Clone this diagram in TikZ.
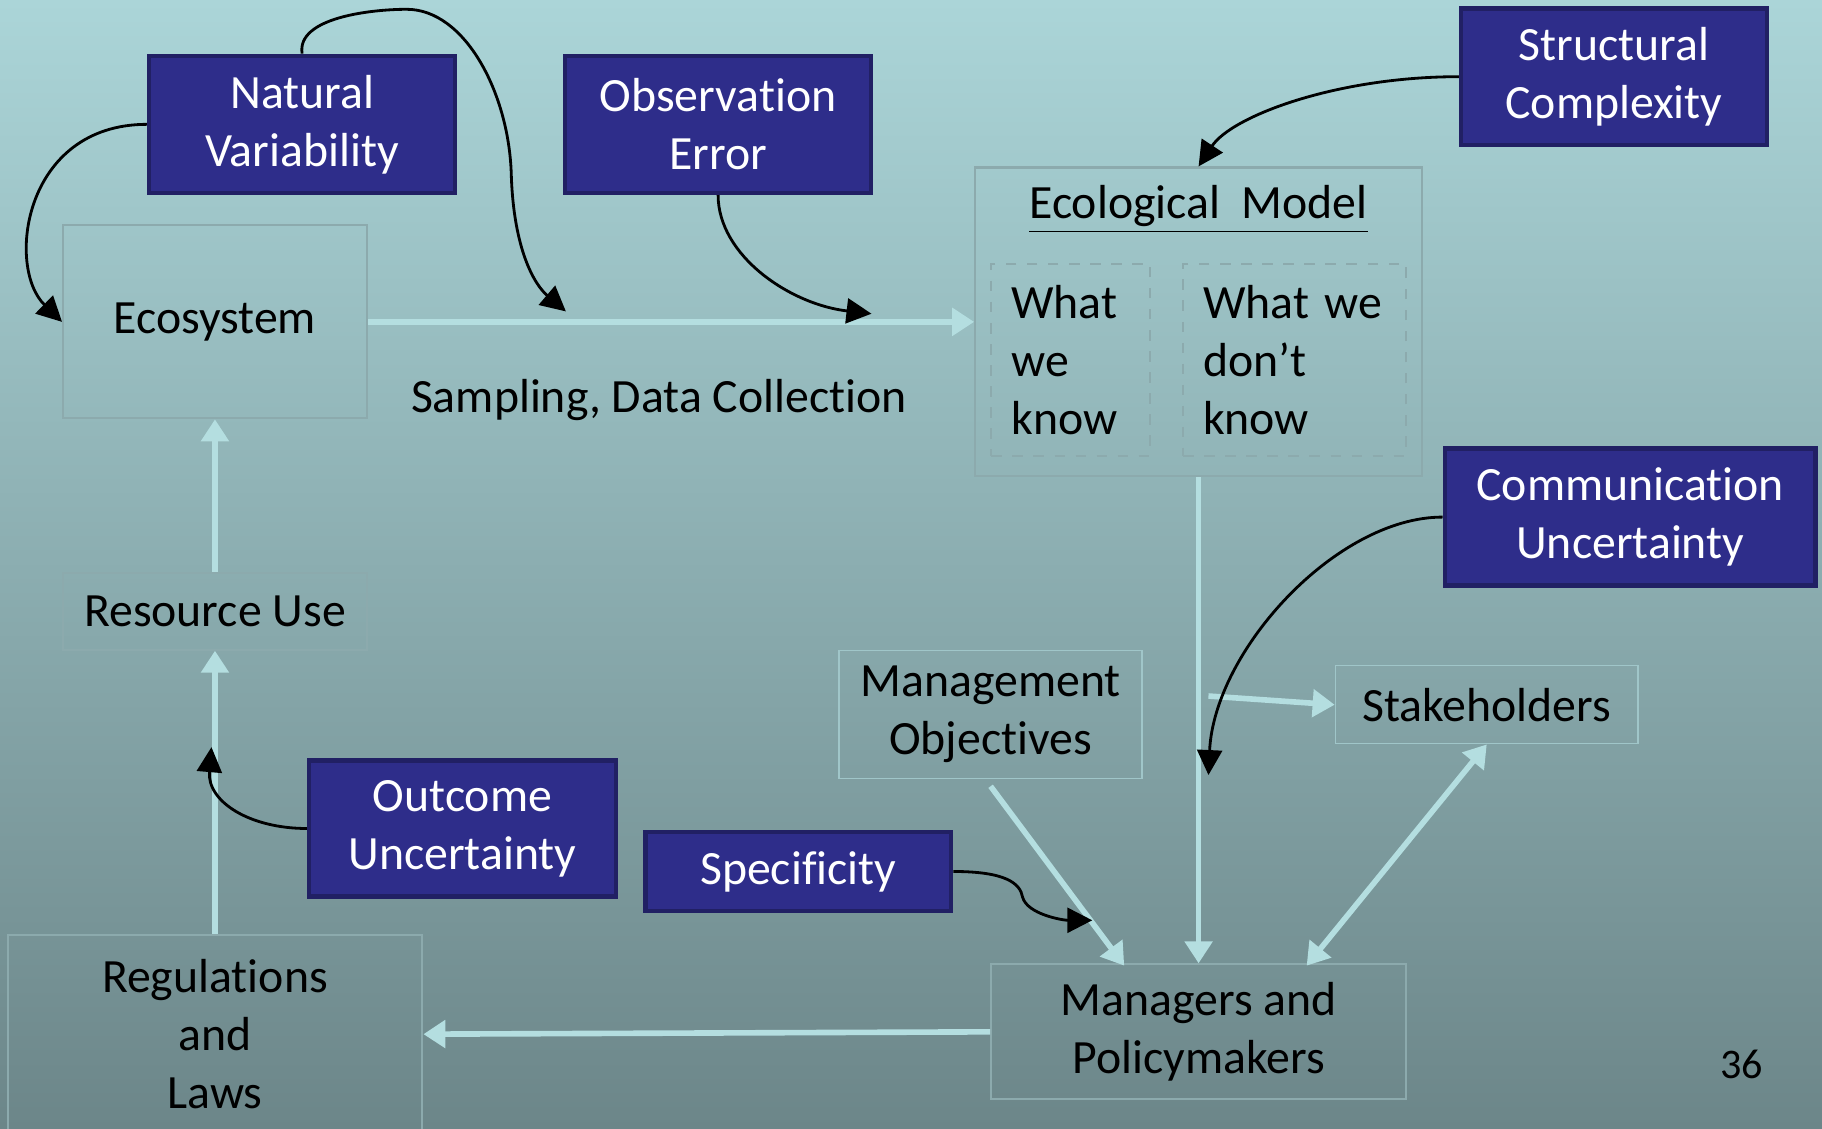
\documentclass[tikz,border=0pt]{standalone}
\usepackage{fontspec}
\setmainfont{Carlito}[Ligatures=NoCommon]
\usepackage{xcolor}
\usetikzlibrary{arrows.meta,calc}

\definecolor{bgtop}{RGB}{171,213,216}
\definecolor{bgbot}{RGB}{108,134,137}
\definecolor{navy}{RGB}{46,45,138}
\definecolor{navyedge}{RGB}{33,32,100}
\definecolor{flowc}{RGB}{180,222,224}
\definecolor{edgec}{RGB}{140,170,173}

\begin{document}
\begin{tikzpicture}[x=0.01162cm,y=-0.01162cm,
  font=\fontsize{13.6}{16.5}\selectfont,
  ubox/.style={draw=navyedge,line width=1.3pt,fill=navy,text=white,align=center,inner sep=0pt},
  pbox/.style={draw=edgec,line width=0.6pt,align=center,inner sep=0pt},
  faint/.style={draw=edgec!35!bgtop,line width=0.4pt,align=center,inner sep=0pt},
  flow/.style={-{Triangle[length=0.22cm,width=0.27cm]},draw=flowc,line width=1.6pt},
  link/.style={-{Triangle[length=0.25cm,width=0.25cm]},line width=0.8pt}]
\useasboundingbox (0,0) rectangle (1568,971);
\shade[top color=bgtop,bottom color=bgbot] (0,0) rectangle (1568,971);

% plain boxes
\node[pbox,minimum width=3.04cm,minimum height=1.93cm] (eco) at (185,277) {Ecosystem};
\node[pbox,minimum width=3.04cm,minimum height=0.77cm] (res) at (185,526) {Resource Use};
\node[pbox,minimum width=4.15cm,minimum height=1.98cm] (regs) at (185,890) {Regulations\\and\\Laws};
\node[pbox,minimum width=4.47cm,minimum height=3.09cm] (ecom) at (1031.5,277) {};
\node (ecomt) at (1031.5,180) {\underline{Ecological\ \ Model}};
\node[pbox,dashed,align=left,text width=1.19cm,inner xsep=0.2cm,minimum height=1.92cm] (know) at (921.5,309.5) {What\\we\\know};
\node[pbox,dashed,align=left,text width=1.83cm,inner xsep=0.2cm,minimum height=1.92cm] (dknow) at (1114,309.5) {What we\\don’t\\know};
\node[faint,minimum width=3.03cm,minimum height=1.28cm] (mobj) at (852.5,615) {Management\\Objectives};
\node[faint,minimum width=3.03cm,minimum height=0.78cm] (stk) at (1279.5,606.5) {Stakeholders};
\node[pbox,minimum width=4.15cm,minimum height=1.35cm] (mgr) at (1031.5,888) {Managers and\\Policymakers};
\node (samp) at (567,344) {Sampling, Data Collection};
\node[font=\fontsize{12}{14}\selectfont] (page) at (1499,916) {36};

% uncertainty boxes
\node[ubox,minimum width=3.06cm,minimum height=1.37cm] (natvar) at (260,107) {Natural\\Variability};
\node[ubox,minimum width=3.06cm,minimum height=1.37cm] (obserr) at (618,107) {Observation\\Error};
\node[ubox,minimum width=3.06cm,minimum height=1.37cm] (strcx) at (1389,66) {Structural\\Complexity};
\node[ubox,minimum width=3.71cm,minimum height=1.37cm] (comm) at (1403,445) {Communication\\Uncertainty};
\node[ubox,minimum width=3.07cm,minimum height=1.36cm] (outc) at (398,713) {Outcome\\Uncertainty};
\node[ubox,minimum width=3.06cm,minimum height=0.79cm] (spec) at (687,750) {Specificity};

% flow of information
\coordinate (tap) at (1040,599);
\draw[flow] (eco.east) -- (ecom.west);
\draw[flow] (res.north) -- (eco.south);
\draw[flow] (regs.north) -- (res.south);
\draw[flow] (ecom.south) -- (mgr.north);
\draw[flow] (tap) -- (stk.west);
\draw[flow] ($(mobj.south)+(0,6)$) -- ($(mgr.north)+(-64,2)$);
\draw[flow,{Triangle[length=0.22cm,width=0.27cm]}-{Triangle[length=0.22cm,width=0.27cm]}] (stk.south) -- ($(mgr.north)+(93,2)$);
\draw[flow] (mgr.west) -- (regs.east);

% sources of uncertainty
\coordinate (nvtip) at (487,268);
\coordinate (oetip) at (750,270);
\coordinate (cutip) at (1040,667);
\coordinate (outip) at (182,643);
\coordinate (sptip) at (940,792);
\draw[link] (natvar.west) .. controls (20,107) and (5,230) .. (eco.west);
\draw[link] (natvar.north) .. controls (255,15) and (320,8) .. (350,8)
  .. controls (400,8) and (438,80) .. (440,150)
  .. controls (442,215) and (460,245) .. (nvtip);
\draw[link] (obserr.south) .. controls (618,220) and (680,262) .. (oetip);
\draw[link] (strcx.west) .. controls (1150,66) and (1060,100) .. (ecom.north);
\draw[link] (comm.west) .. controls (1150,445) and (1045,560) .. (cutip);
\draw[link] (outc.west) .. controls (215,713) and (178,690) .. (outip);
\draw[link] (spec.east) .. controls (865,750) and (878,760) .. (880,772)
  .. controls (884,787) and (915,792) .. (sptip);
\end{tikzpicture}
\end{document}
